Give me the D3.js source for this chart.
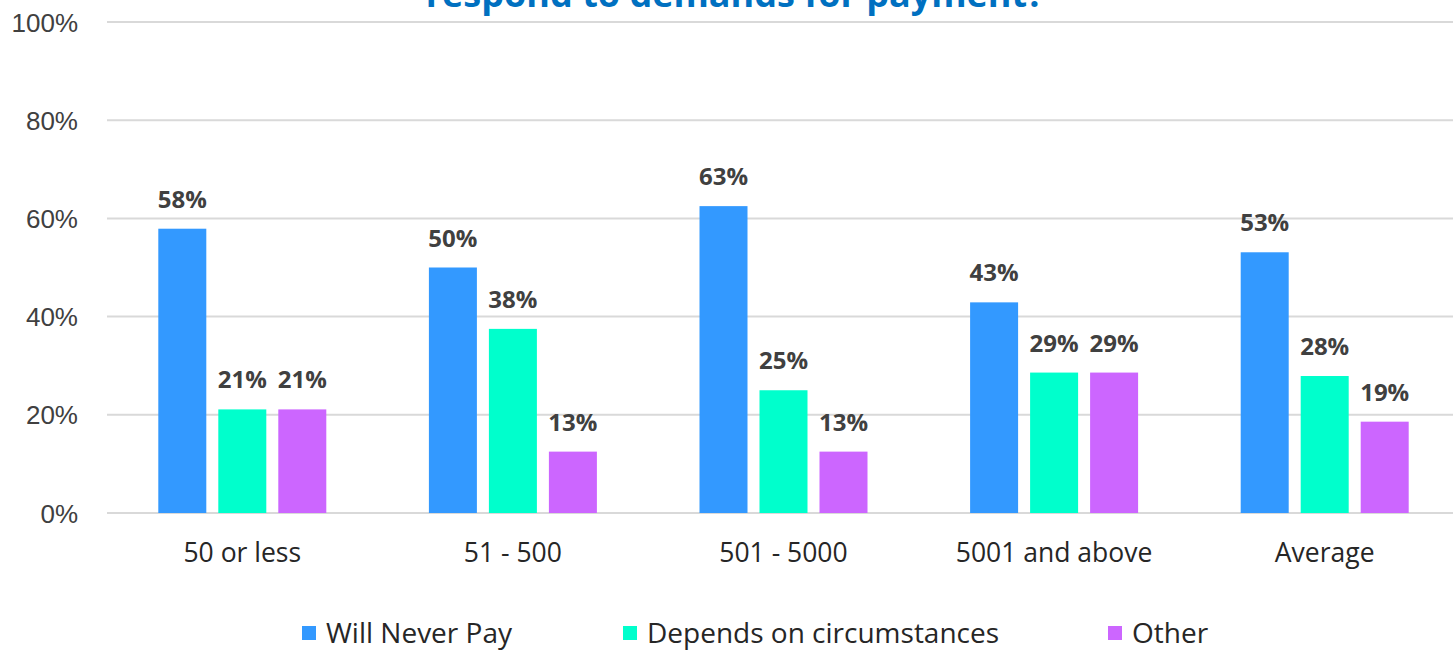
<!DOCTYPE html>
<html>
<head>
<meta charset="utf-8">
<script src="https://cdn.jsdelivr.net/npm/d3@7"></script>
<style>
  body { margin: 0; background: #fff; }
  svg { display: block; font-family: "Open Sans", sans-serif; }
  .grid line { stroke: #d9d9d9; stroke-width: 2px; }
  .ytick text { fill: #404040; font-size: 26px; }
  .xlab { fill: #262626; font-size: 26.5px; }
  .val { fill: #404040; font-size: 24px; font-weight: bold; }
  .leg { fill: #262626; font-size: 28px; }
</style>
</head>
<body>
<svg id="chart"></svg>
<script>
const categories = ['50 or less', '51 - 500', '501 - 5000', '5001 and above', 'Average'];
const seriesNames = ['Will Never Pay', 'Depends on circumstances', 'Other'];
const neverPay = [57.9, 50, 62.5, 42.9, 53.1];
const depends = [21.1, 37.5, 25, 28.6, 27.9];
const other = [21.1, 12.5, 12.5, 28.6, 18.6];
const yTicks = [0, 20, 40, 60, 80, 100];
const colors = ['#3399ff', '#00ffcc', '#cc66ff'];
const titleText = 'respond to demands for payment?';

const width = 1453, height = 651;
const svg = d3.select('#chart').attr('width', width).attr('height', height);

const plotLeft = 107, plotRight = 1460;
const x = d3.scaleBand().domain(categories).range([plotLeft, plotRight]);
const inner = d3.scaleBand().domain(seriesNames).range([-84, 84]).paddingInner(0.2);
const y = d3.scaleLinear().domain([0, 100]).range([513, 22]);

// title, cut off at the top edge
svg.append('text')
    .attr('x', 735).attr('y', 7)
    .attr('text-anchor', 'middle')
    .style('font-size', '36px').style('font-weight', 'bold').style('fill', '#0070c0')
    .text(titleText);

// grid lines
const grid = svg.append('g').classed('grid', true);
grid.selectAll('line')
    .data(yTicks)
    .join('line')
        .attr('x1', plotLeft).attr('x2', width)
        .attr('y1', d => y(d)).attr('y2', d => y(d));

// y axis labels
const yAxis = svg.append('g').classed('ytick', true)
    .attr('transform', `translate(${plotLeft - 29},0)`)
    .call(d3.axisLeft(y).tickValues(yTicks).tickSize(0).tickPadding(0).tickFormat(d => d + '%'));
yAxis.select('.domain').remove();
yAxis.selectAll('text').attr('dy', '0.35em');

const rows = categories.map((c, i) => ({cat: c, vals: [neverPay[i], depends[i], other[i]]}));

const groups = svg.append('g').selectAll('g')
    .data(rows)
    .join('g')
        .attr('transform', d => `translate(${x(d.cat) + x.bandwidth() / 2},0)`);

groups.selectAll('rect')
    .data(d => d.vals.map((v, j) => ({s: seriesNames[j], v: v, j: j})))
    .join('rect')
        .attr('x', d => inner(d.s))
        .attr('width', inner.bandwidth())
        .attr('y', d => y(d.v))
        .attr('height', d => y(0) - y(d.v))
        .style('fill', d => colors[d.j]);

groups.selectAll('text.val')
    .data(d => d.vals.map((v, j) => ({s: seriesNames[j], v: v})))
    .join('text')
        .classed('val', true)
        .attr('x', d => inner(d.s) + inner.bandwidth() / 2)
        .attr('y', d => y(d.v) - 21)
        .attr('text-anchor', 'middle')
        .text(d => Math.round(d.v) + '%');

// category labels
svg.append('g').selectAll('text')
    .data(categories)
    .join('text')
        .classed('xlab', true)
        .attr('x', d => x(d) + x.bandwidth() / 2)
        .attr('y', 562)
        .attr('text-anchor', 'middle')
        .text(d => d);

// legend
const legX = [302, 623, 1108];
const leg = svg.append('g').selectAll('g')
    .data(seriesNames)
    .join('g')
        .attr('transform', (d, i) => `translate(${legX[i]},643)`);
leg.append('rect')
    .attr('x', 0).attr('y', -17).attr('width', 14).attr('height', 14)
    .style('fill', (d, i) => colors[i]);
leg.append('text')
    .classed('leg', true)
    .attr('x', 24).attr('y', 0)
    .text(d => d);
</script>
</body>
</html>
